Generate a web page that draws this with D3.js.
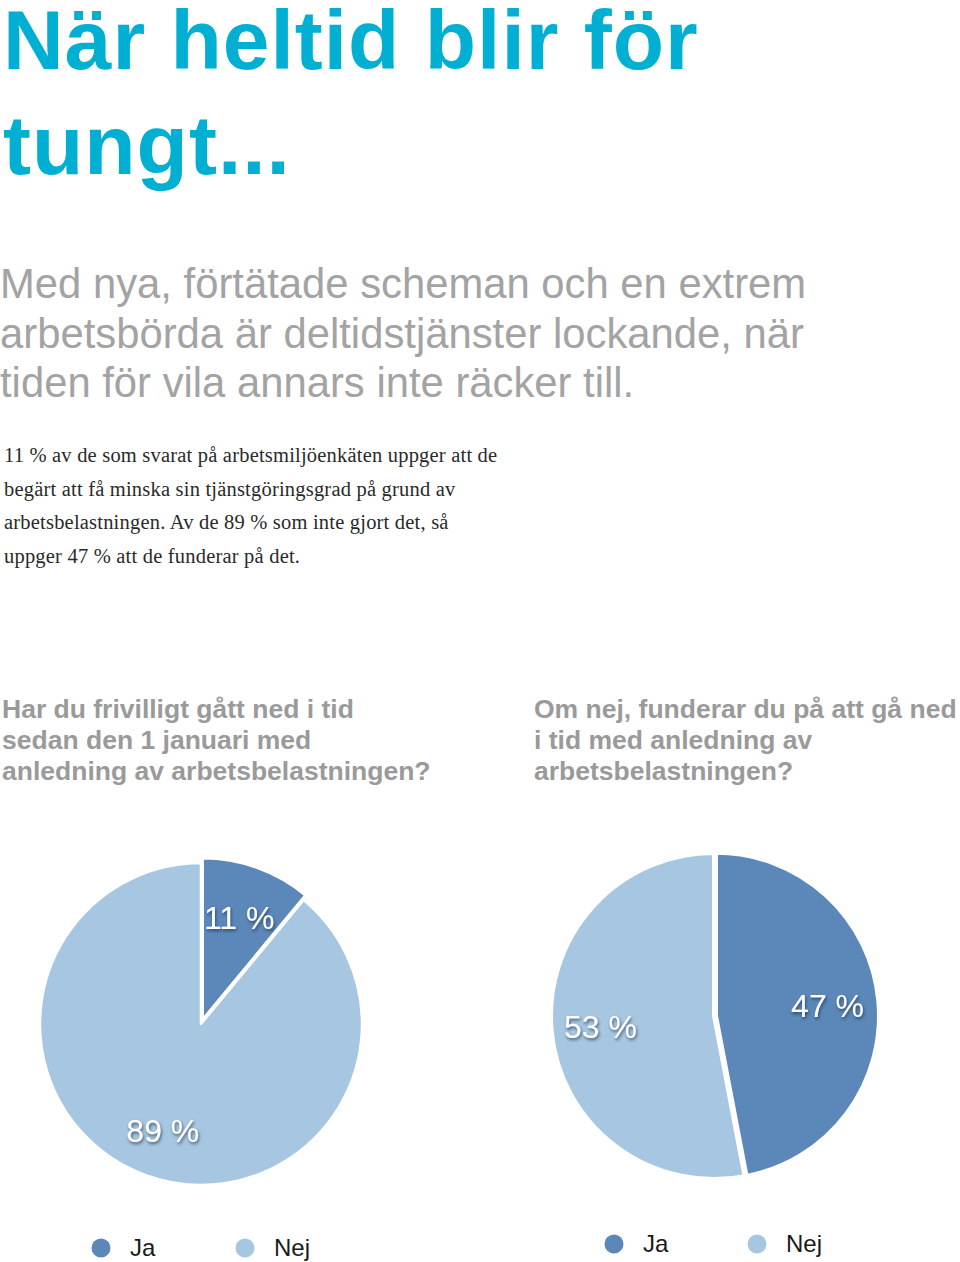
<!DOCTYPE html>
<html><head><meta charset="utf-8">
<script src="https://cdn.jsdelivr.net/npm/d3@7"></script>
<style>html,body{margin:0;padding:0;background:#fff;}svg{display:block;}</style>
</head><body>
<svg id="chart" width="960" height="1262"></svg>
<script>
const titleLines = ["När heltid blir för", "tungt..."];
const leadLines = ["Med nya, förtätade scheman och en extrem", "arbetsbörda är deltidstjänster lockande, när", "tiden för vila annars inte räcker till."];
const bodyLines = ["11 % av de som svarat på arbetsmiljöenkäten uppger att de", "begärt att få minska sin tjänstgöringsgrad på grund av", "arbetsbelastningen. Av de 89 % som inte gjort det, så", "uppger 47 % att de funderar på det."];
const categories = ["Ja", "Nej"];
const q1Lines = ["Har du frivilligt gått ned i tid", "sedan den 1 januari med", "anledning av arbetsbelastningen?"];
const q2Lines = ["Om nej, funderar du på att gå ned", "i tid med anledning av", "arbetsbelastningen?"];
const q1Values = [11, 89];
const q2Values = [47, 53];

const svg = d3.select("#chart");
const color = d3.scaleOrdinal().domain(categories).range(["#5b87b9", "#a6c6e1"]);

// drop shadow for labels
const defs = svg.append("defs");
const f = defs.append("filter").attr("id","shadow").attr("x","-20%").attr("y","-20%").attr("width","140%").attr("height","160%");
f.append("feDropShadow").attr("dx",1).attr("dy",2).attr("stdDeviation",1.5).attr("flood-color","#1d2f45").attr("flood-opacity",0.7);

// title
svg.append("g").selectAll("text").data(titleLines).join("text")
  .attr("x", 3).attr("y", (d,i)=>69 + i*105)
  .attr("font-family","'Liberation Sans', Arial, sans-serif").attr("font-weight","bold")
  .attr("font-size", 84).attr("fill","#00afd2").attr("letter-spacing","1")
  .text(d=>d);

svg.append("g").selectAll("text").data(leadLines).join("text")
  .attr("x", 0).attr("y", (d,i)=>298 + i*49.5)
  .attr("font-family","'Liberation Sans', Arial, sans-serif")
  .attr("font-size", 41.8).attr("fill","#a3a3a3")
  .text(d=>d);

svg.append("g").selectAll("text").data(bodyLines).join("text")
  .attr("x", 4).attr("y", (d,i)=>462 + i*33.7)
  .attr("font-family","'Liberation Serif', 'Times New Roman', serif")
  .attr("font-size", 20.5).attr("letter-spacing","0.2").attr("fill","#2a2a2a")
  .text(d=>d);

function question(lines, x){
  svg.append("g").selectAll("text").data(lines).join("text")
    .attr("x", x).attr("y", (d,i)=>718 + i*31)
    .attr("font-family","'Liberation Sans', Arial, sans-serif").attr("font-weight","bold")
    .attr("font-size", 26.5).attr("fill","#9a9a9a")
    .text(d=>d);
}
question(q1Lines, 2);
question(q2Lines, 534);

function pie(values, cx, cy, r, explodeIdx, explode, strokeW){
  const data = categories.map((c,i)=>({cat:c, value:values[i]}));
  const arcs = d3.pie().value(d=>d.value).sort(null)(data);
  const arc = d3.arc().innerRadius(0).outerRadius(r);
  const labelArc = d3.arc().innerRadius(r*0.7).outerRadius(r*0.7);
  const g = svg.append("g").attr("transform",`translate(${cx},${cy})`);
  g.selectAll("path").data(arcs).join("path")
    .attr("transform", (d,i)=>{
      if(i!==explodeIdx) return null;
      const a = (d.startAngle+d.endAngle)/2;
      return `translate(${Math.sin(a)*explode},${-Math.cos(a)*explode})`;
    })
    .attr("d", arc).attr("fill", d=>color(d.data.cat))
    .attr("stroke","#fff").attr("stroke-width",strokeW).attr("stroke-linejoin","round");
  g.selectAll("text").data(arcs).join("text")
    .attr("transform", d=>`translate(${labelArc.centroid(d)})`)
    .attr("text-anchor","middle").attr("dy","0.36em")
    .attr("font-family","'Liberation Sans', Arial, sans-serif")
    .attr("font-size", 32).attr("fill","#fff").attr("filter","url(#shadow)")
    .text(d=>d.data.value + " %");
}
pie(q1Values, 201, 1024, 161, 0, 5, 2.5);
pie(q2Values, 714, 1016, 163, 0, 2, 4);

function legend(x0, y, gap){
  const g = svg.append("g");
  categories.forEach((c,i)=>{
    const x = x0 + i*gap;
    g.append("circle").attr("cx", x).attr("cy", y).attr("r", 9.5).attr("fill", color(c));
    g.append("text").attr("x", x+29).attr("y", y+8)
      .attr("font-family","'Liberation Sans', Arial, sans-serif")
      .attr("font-size", 24).attr("fill","#1a1a1a").text(c);
  });
}
legend(101, 1248, 144);
legend(614, 1244, 143);
</script>
</body></html>
